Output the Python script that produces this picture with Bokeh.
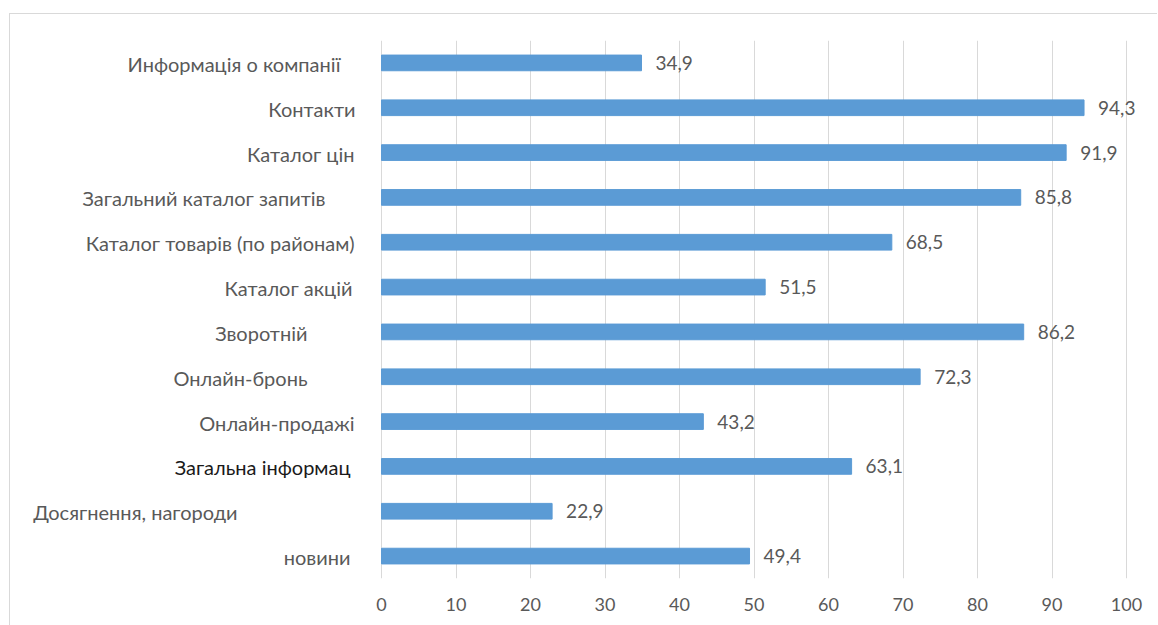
from bokeh.plotting import figure
from bokeh.models import ColumnDataSource, FactorRange, FixedTicker, Range1d
from bokeh.core.properties import value
from bokeh.embed import file_html
from bokeh.resources import INLINE

categories = ["Информація о компанії", "Контакти", "Каталог цін",
              "Загальний каталог запитів", "Каталог товарів (по районам)",
              "Каталог акцій", "Зворотній", "Онлайн-бронь", "Онлайн-продажі",
              "Загальна інформац", "Досягнення, нагороди", "новини"]
values = [34.9, 94.3, 91.9, 85.8, 68.5, 51.5, 86.2, 72.3, 43.2, 63.1, 22.9, 49.4]
value_labels = ["34,9", "94,3", "91,9", "85,8", "68,5", "51,5",
                "86,2", "72,3", "43,2", "63,1", "22,9", "49,4"]
x_ticks = [0, 10, 20, 30, 40, 50, 60, 70, 80, 90, 100]

# styling: per-label horizontal offset (px) and colour, as in the source image
label_offsets = [-41, -26, -27, -56, -27, -29, -74, -74, -27, -31, -144, -31]
label_colors = ["#595959"] * 9 + ["#1a1a1a"] + ["#595959"] * 2

FONT = "Lato"

# layout in pixels: the frame spans the whole width so that category labels
# (drawn as glyphs) are not clipped; the axis 0..100 sits at px 381..1126
FRAME_L, FRAME_R = 10, 1158
ZERO_PX, HUNDRED_PX = 381, 1126
k = (HUNDRED_PX - ZERO_PX) / 100.0
x_start = -(ZERO_PX - FRAME_L) / k
x_end = (FRAME_R - ZERO_PX) / k

src = ColumnDataSource(dict(cat=categories, val=values, vlab=value_labels,
                            zero=[0] * len(categories), off=label_offsets,
                            col=label_colors))

p = figure(width=FRAME_R - FRAME_L, height=612, output_backend="svg",
           toolbar_location=None,
           y_range=FactorRange(factors=list(reversed(categories))),
           x_range=Range1d(x_start, x_end),
           min_border_left=0, min_border_right=0, min_border_top=26,
           min_border_bottom=48)
p.margin = (13, 0, 0, 9)
p.styles = {"border-top": "1px solid #D9D9D9", "border-left": "1px solid #D9D9D9"}

p.hbar(y="cat", left=0, right="val", height=0.35, source=src,
       fill_color="#5B9BD5", line_color="#5B9BD5")

p.text(x="val", y="cat", text="vlab", source=src, x_offset=14,
       text_align="left", text_baseline="middle", text_color="#595959",
       text_font=value(FONT), text_font_size="19px")

p.text(x="zero", y="cat", text="cat", source=src, x_offset="off", y_offset=1,
       text_align="right", text_baseline="middle", text_color="col",
       text_font=value(FONT), text_font_size="20px")

p.yaxis.visible = False
p.ygrid.grid_line_color = None
p.xgrid.grid_line_color = "#D9D9D9"
p.xgrid.grid_line_width = 1
p.xaxis.ticker = FixedTicker(ticks=x_ticks)
p.xaxis.axis_line_color = None
p.xaxis.major_tick_line_color = None
p.xaxis.minor_tick_line_color = None
p.xaxis.major_label_text_font = FONT
p.xaxis.major_label_text_font_size = "18px"
p.xaxis.major_label_text_color = "#595959"
p.xaxis.major_label_standoff = 13
p.outline_line_color = None
p.background_fill_color = "white"
p.border_fill_color = "white"

open("out.html", "w").write(file_html(p, INLINE))
